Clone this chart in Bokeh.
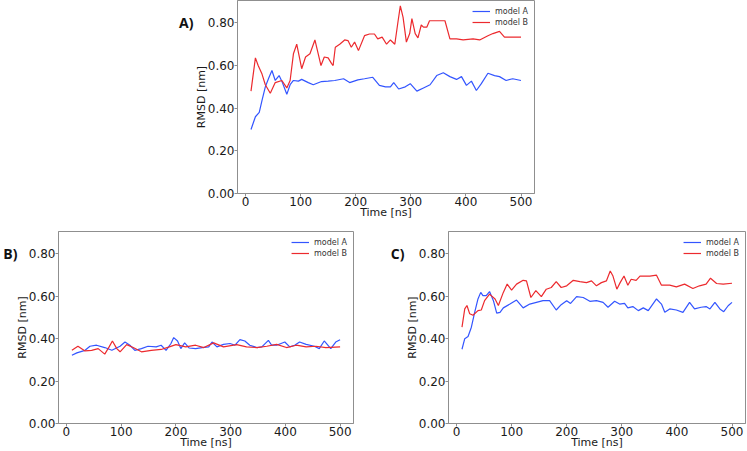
from bokeh.plotting import figure
from bokeh.layouts import column, row
from bokeh.models import (Range1d, FixedTicker, NumeralTickFormatter, Spacer, LinearAxis)
from bokeh.embed import file_html
from bokeh.resources import INLINE

# ---------------- data ----------------
x_ticks = [0, 100, 200, 300, 400, 500]
y_ticks = [0.0, 0.2, 0.4, 0.6, 0.8]
series_names = ["model A", "model B"]
panel_labels = ["A)", "B)", "C)"]
label_level = 0.8

# Panel A
a_t_A = [10, 18, 25, 30, 36, 42, 48, 54, 61, 67, 75, 81, 87, 96, 102, 114, 123, 138, 150, 162,
         178, 189, 204, 216, 231, 243, 254, 263, 269, 278, 290, 299, 311, 323, 335, 347, 359,
         371, 383, 392, 401, 410, 419, 428, 440, 452, 461, 473, 485, 500]
a_v_A = [0.30, 0.36, 0.38, 0.437, 0.50, 0.54, 0.577, 0.53, 0.553, 0.52, 0.465, 0.51, 0.53, 0.527,
         0.535, 0.52, 0.51, 0.525, 0.527, 0.53, 0.538, 0.52, 0.533, 0.538, 0.545, 0.507, 0.50,
         0.50, 0.52, 0.49, 0.50, 0.515, 0.48, 0.495, 0.51, 0.553, 0.566, 0.548, 0.535, 0.548,
         0.507, 0.527, 0.483, 0.515, 0.564, 0.553, 0.548, 0.53, 0.538, 0.53]
a_t_B = [10, 18, 23, 30, 36, 45, 54, 66, 75, 81, 87, 93, 102, 109, 117, 126, 132, 137, 143, 150,
         156, 159, 163, 171, 180, 186, 192, 198, 205, 216, 225, 234, 240, 248, 256, 263, 271,
         277, 281, 286, 292, 298, 302, 308, 313, 319, 323, 329, 334, 347, 362, 371, 383, 395,
         413, 425, 440, 449, 461, 470, 485, 500]
a_v_B = [0.48, 0.636, 0.60, 0.56, 0.51, 0.47, 0.52, 0.53, 0.495, 0.53, 0.655, 0.70, 0.585, 0.64,
         0.655, 0.72, 0.655, 0.60, 0.64, 0.636, 0.61, 0.60, 0.686, 0.70, 0.72, 0.717, 0.686,
         0.71, 0.67, 0.74, 0.748, 0.748, 0.725, 0.733, 0.70, 0.72, 0.70, 0.81, 0.88, 0.826,
         0.71, 0.75, 0.82, 0.75, 0.73, 0.79, 0.78, 0.78, 0.81, 0.81, 0.81, 0.725, 0.725, 0.72,
         0.725, 0.72, 0.74, 0.75, 0.76, 0.733, 0.733, 0.733]

# Panel B
b_t_A = [10, 19, 34, 43, 55, 70, 83, 98, 107, 116, 125, 137, 149, 164, 173, 182, 191, 196, 203,
         209, 216, 224, 236, 248, 260, 266, 275, 287, 299, 308, 317, 326, 335, 348, 357, 369,
         375, 384, 399, 408, 417, 426, 438, 453, 462, 471, 483, 492, 500]
b_v_A = [0.322, 0.333, 0.345, 0.364, 0.369, 0.358, 0.345, 0.364, 0.384, 0.369, 0.345, 0.353,
         0.364, 0.361, 0.369, 0.345, 0.377, 0.405, 0.389, 0.353, 0.38, 0.356, 0.353, 0.358,
         0.361, 0.384, 0.361, 0.373, 0.377, 0.369, 0.395, 0.389, 0.369, 0.358, 0.361, 0.392,
         0.369, 0.369, 0.384, 0.361, 0.369, 0.384, 0.373, 0.364, 0.353, 0.389, 0.353, 0.384,
         0.395]
b_t_B = [10, 21, 34, 46, 58, 70, 78, 84, 92, 98, 110, 122, 137, 155, 173, 188, 200, 218, 236,
         251, 269, 287, 311, 329, 348, 366, 384, 402, 420, 438, 456, 474, 500]
b_v_B = [0.345, 0.364, 0.342, 0.345, 0.353, 0.327, 0.361, 0.389, 0.353, 0.338, 0.372, 0.358,
         0.338, 0.345, 0.349, 0.361, 0.372, 0.361, 0.369, 0.358, 0.38, 0.361, 0.372, 0.361,
         0.358, 0.364, 0.373, 0.358, 0.369, 0.361, 0.364, 0.358, 0.361]

# Panel C
c_t_A = [10, 15, 21, 27, 33, 39, 44, 48, 54, 60, 67, 73, 79, 85, 97, 109, 121, 133, 145, 157,
         169, 181, 190, 200, 207, 218, 230, 242, 254, 266, 275, 287, 296, 305, 311, 320, 330,
         339, 348, 363, 372, 378, 387, 399, 411, 423, 432, 444, 453, 460, 469, 478, 485, 493,
         500]
c_v_A = [0.35, 0.40, 0.41, 0.454, 0.524, 0.587, 0.618, 0.603, 0.603, 0.622, 0.579, 0.52, 0.524,
         0.545, 0.563, 0.582, 0.545, 0.563, 0.571, 0.579, 0.579, 0.535, 0.56, 0.579, 0.566,
         0.598, 0.594, 0.576, 0.579, 0.571, 0.548, 0.576, 0.563, 0.566, 0.545, 0.551, 0.532,
         0.545, 0.532, 0.587, 0.563, 0.524, 0.54, 0.535, 0.524, 0.571, 0.54, 0.548, 0.551,
         0.54, 0.571, 0.54, 0.527, 0.555, 0.571]
c_t_B = [10, 15, 19, 24, 30, 39, 45, 51, 60, 70, 76, 85, 92, 100, 109, 121, 127, 135, 144, 154,
         163, 172, 181, 190, 200, 212, 224, 236, 245, 254, 263, 272, 279, 284, 291, 297, 304,
         311, 317, 326, 333, 351, 363, 372, 387, 399, 414, 429, 441, 453, 461, 472, 484, 500]
c_v_B = [0.454, 0.54, 0.556, 0.517, 0.51, 0.532, 0.535, 0.579, 0.61, 0.587, 0.556, 0.618, 0.657,
         0.629, 0.657, 0.675, 0.672, 0.594, 0.626, 0.598, 0.633, 0.641, 0.669, 0.641, 0.649,
         0.675, 0.669, 0.664, 0.672, 0.649, 0.664, 0.672, 0.719, 0.695, 0.633, 0.664, 0.695,
         0.652, 0.68, 0.675, 0.695, 0.695, 0.699, 0.652, 0.652, 0.644, 0.657, 0.636, 0.649,
         0.657, 0.685, 0.66, 0.657, 0.661]

# ---------------- styling ----------------
BLUE = "#3355ff"
RED = "#ec2a2e"
SPINE = "#8f8f8f"
TXT = "#1a1a1a"
FONT = "DejaVu Sans"

X0, X1 = -14.5, 524.5
Y0, Y1 = 0.0, 0.905


def make_panel(tA, vA, tB, vB, label, width, height, border_left, border_top, border_bottom,
               border_right, label_standoff):
    p = figure(width=width, height=height,
               x_range=Range1d(X0, X1), y_range=Range1d(Y0, Y1),
               output_backend="svg", toolbar_location=None,
               min_border_left=border_left, min_border_right=border_right,
               min_border_top=border_top, min_border_bottom=border_bottom)
    p.background_fill_color = "white"
    p.border_fill_color = "white"
    p.outline_line_color = SPINE
    p.outline_line_width = 1
    p.xgrid.visible = False
    p.ygrid.visible = False

    p.line(tA, vA, color=BLUE, line_width=1.2, legend_label=series_names[0])
    p.line(tB, vB, color=RED, line_width=1.2, legend_label=series_names[1])

    for ax in (p.xaxis[0], p.yaxis[0]):
        ax.axis_line_color = SPINE
        ax.major_tick_line_color = SPINE
        ax.minor_tick_line_color = None
        ax.major_tick_in = 0
        ax.major_tick_out = 3
        ax.major_label_text_font = FONT
        ax.major_label_text_font_size = "12px"
        ax.major_label_text_color = TXT
        ax.axis_label_text_font = FONT
        ax.axis_label_text_font_size = "11px"
        ax.axis_label_text_font_style = "normal"
        ax.axis_label_text_color = TXT

    p.xaxis.ticker = FixedTicker(ticks=x_ticks)
    p.yaxis.ticker = FixedTicker(ticks=y_ticks)
    p.yaxis.formatter = NumeralTickFormatter(format="0.00")
    p.xaxis.axis_label = "Time [ns]"
    p.yaxis.axis_label = "RMSD [nm]"
    p.xaxis.major_label_standoff = 0
    p.xaxis.axis_label_standoff = -3
    p.yaxis.major_label_standoff = 0
    p.yaxis.axis_label_standoff = -3

    # panel letter, drawn as the single label of an extra bare axis on the left
    tag = LinearAxis(ticker=FixedTicker(ticks=[label_level]),
                     major_label_overrides={label_level: label},
                     axis_line_color=None, major_tick_line_color=None,
                     minor_tick_line_color=None, major_tick_in=0, major_tick_out=0,
                     major_label_standoff=label_standoff,
                     major_label_text_font="Open Sans",
                     major_label_text_font_style="bold",
                     major_label_text_font_size="14px",
                     major_label_text_color="#111111")
    p.add_layout(tag, "left")

    lg = p.legend[0]
    lg.location = "top_right"
    lg.background_fill_alpha = 0
    lg.border_line_alpha = 0
    lg.label_text_font = FONT
    lg.label_text_font_size = "8px"
    lg.label_text_color = "#333333"
    lg.glyph_width = 18
    lg.glyph_height = 10
    lg.label_height = 10
    lg.label_standoff = 5
    lg.spacing = 1
    lg.padding = 4
    lg.margin = 2
    return p


pA = make_panel(a_t_A, a_v_A, a_t_B, a_v_B, panel_labels[0],
                width=369, height=231,
                border_left=62, border_top=0, border_bottom=38, border_right=10,
                label_standoff=-2)
pB = make_panel(b_t_A, b_v_A, b_t_B, b_v_B, panel_labels[1],
                width=355, height=220,
                border_left=53, border_top=0, border_bottom=26, border_right=2,
                label_standoff=-5)
pC = make_panel(c_t_A, c_v_A, c_t_B, c_v_B, panel_labels[2],
                width=391, height=220,
                border_left=93, border_top=0, border_bottom=26, border_right=1,
                label_standoff=-2)

layout = column(row(Spacer(width=175, height=10), pA), row(pB, pC))

open("out.html", "w").write(file_html(layout, INLINE))
